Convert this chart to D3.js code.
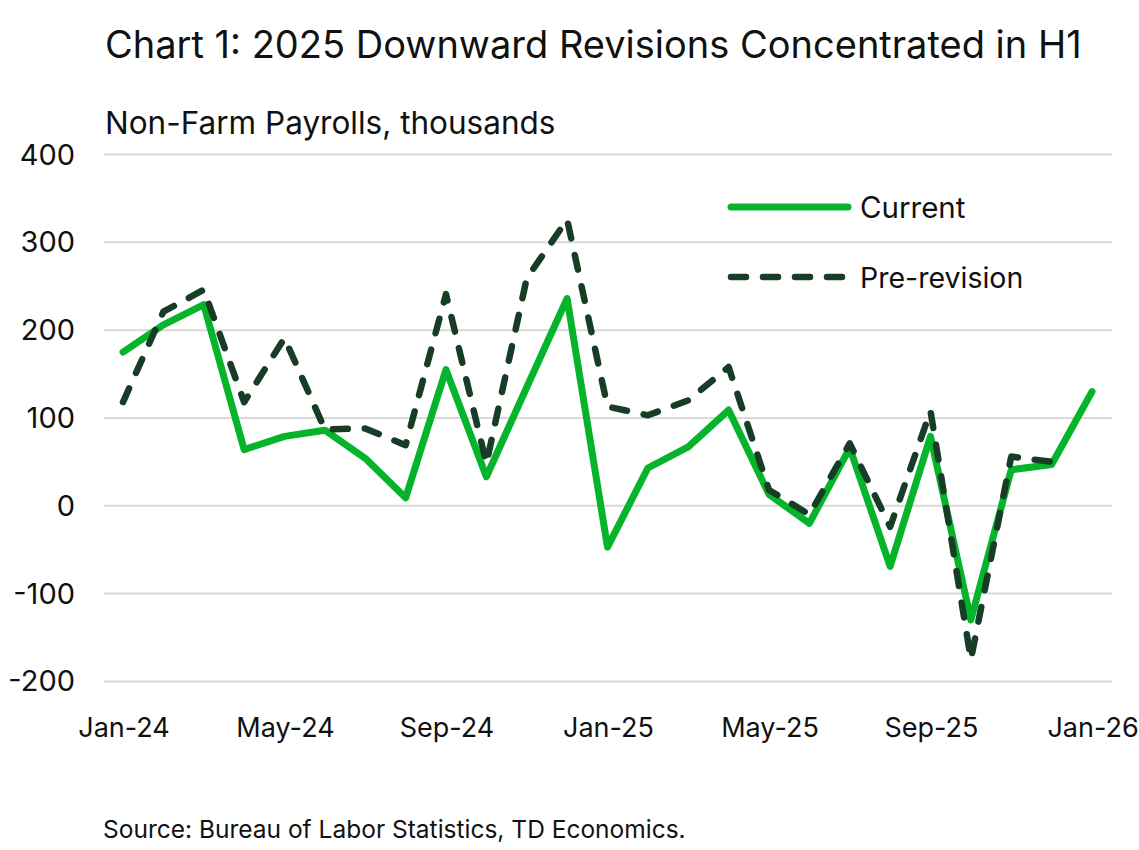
<!DOCTYPE html>
<meta charset="utf-8">
<style>
body { margin: 0; background: #fff; }
text { font-family: "Inter", "Noto Sans", sans-serif; fill: #111; }
</style>
<svg width="1139" height="850"></svg>
<script src="https://d3js.org/d3.v7.min.js"></script>
<script>
// monthly labels Jan-24 .. Jan-26
var months = ["Jan-24","Feb-24","Mar-24","Apr-24","May-24","Jun-24","Jul-24","Aug-24","Sep-24","Oct-24","Nov-24","Dec-24",
              "Jan-25","Feb-25","Mar-25","Apr-25","May-25","Jun-25","Jul-25","Aug-25","Sep-25","Oct-25","Nov-25","Dec-25","Jan-26"]
var current = [175, 206, 229, 64, 79, 86, 54, 9, 155, 33, 135, 236,
               -47, 43, 67, 109, 13, -20, 66, -69, 79, -130, 41, 47, 130]
var preRevision = [118, 221, 246, 118, 191, 87, 88, 69, 241, 48, 259, 326,
                   113, 103, 120, 158, 18, -10, 71, -24, 108, -175, 56, 50, null]
var yTicks = [-200, -100, 0, 100, 200, 300, 400]
var xTickLabels = ["Jan-24","May-24","Sep-24","Jan-25","May-25","Sep-25","Jan-26"]

var svg = d3.select("svg")
var green = "#06b42b", dark = "#183d26"

var x = d3.scalePoint().domain(months).range([123, 1092])
var y = d3.scaleLinear().domain([-200, 400]).range([681.4, 154.5])

// gridlines
svg.append("g").selectAll("line").data(yTicks)
  .enter().append("line")
  .attr("x1", 104).attr("x2", 1112)
  .attr("y1", function(d) { return y(d) }).attr("y2", function(d) { return y(d) })
  .attr("stroke", "#d9d9d9").attr("stroke-width", 2)

// y tick labels
svg.append("g").selectAll("text").data(yTicks)
  .enter().append("text")
  .attr("x", 75).attr("y", function(d) { return y(d) + 10 })
  .attr("text-anchor", "end").attr("font-size", 29)
  .text(function(d) { return d })

// x tick labels
svg.append("g").selectAll("text").data(xTickLabels)
  .enter().append("text")
  .attr("x", function(d) { return x(d) + 1 }).attr("y", 737)
  .attr("text-anchor", "middle").attr("font-size", 27)
  .text(function(d) { return d })

var line = d3.line()
  .defined(function(d) { return d.v != null })
  .x(function(d) { return x(d.m) })
  .y(function(d) { return y(d.v) })

function series(vals) { return months.map(function(m, i) { return {m: m, v: vals[i]} }) }

svg.append("path")
  .attr("d", line(series(current)))
  .attr("fill", "none").attr("stroke", green).attr("stroke-width", 7)
  .attr("stroke-linejoin", "round").attr("stroke-linecap", "round")

svg.append("path")
  .attr("d", line(series(preRevision)))
  .attr("fill", "none").attr("stroke", dark).attr("stroke-width", 6.5)
  .attr("stroke-dasharray", "15,17")
  .attr("stroke-linejoin", "round").attr("stroke-linecap", "round")

// legend
svg.append("line").attr("x1", 731).attr("x2", 848).attr("y1", 207).attr("y2", 207)
  .attr("stroke", green).attr("stroke-width", 7).attr("stroke-linecap", "round")
svg.append("text").attr("x", 860).attr("y", 218).attr("font-size", 29.5).text("Current")
svg.append("line").attr("x1", 731).attr("x2", 848).attr("y1", 277).attr("y2", 277)
  .attr("stroke", dark).attr("stroke-width", 6.5).attr("stroke-linecap", "round")
  .attr("stroke-dasharray", "15,17")
svg.append("text").attr("x", 860).attr("y", 288).attr("font-size", 28.5).text("Pre-revision")

// titles
svg.append("text").attr("x", 105).attr("y", 58).attr("font-size", 38)
  .text("Chart 1: 2025 Downward Revisions Concentrated in H1")
svg.append("text").attr("x", 105).attr("y", 134).attr("font-size", 31.5)
  .text("Non-Farm Payrolls, thousands")
svg.append("text").attr("x", 103).attr("y", 838).attr("font-size", 24.5)
  .text("Source: Bureau of Labor Statistics, TD Economics.")
</script>
